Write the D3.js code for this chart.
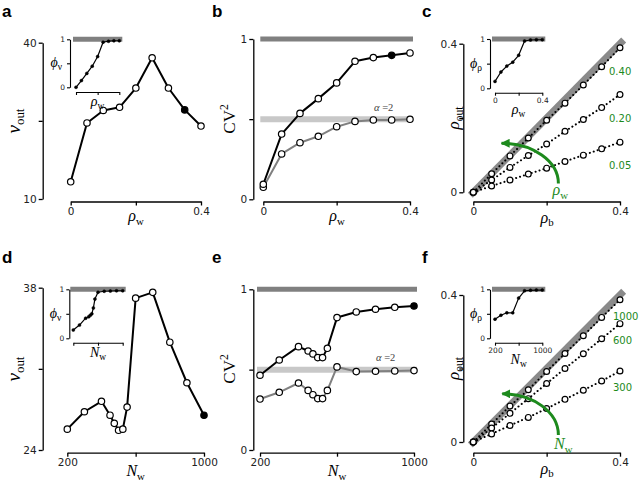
<!DOCTYPE html>
<html>
<head>
<meta charset="utf-8">
<script src="https://cdn.jsdelivr.net/npm/d3@7"></script>
<style>
  body { margin: 0; background: #fff; }
</style>
</head>
<body>
<svg id="fig" width="640" height="483"></svg>
<script>
// ---- data ----
const rhoW = [0, 0.05, 0.1, 0.15, 0.2, 0.25, 0.3, 0.35, 0.4];
const nuOutRho = [13.3, 24.6, 27.0, 27.6, 31.3, 37.1, 31.3, 27.1, 24.0];
const phiNuRho = [0, 0.14, 0.29, 0.44, 0.64, 0.94, 0.96, 0.97, 0.97];
const cv2RhoBlack = [0.094, 0.407, 0.536, 0.628, 0.726, 0.861, 0.884, 0.898, 0.913];
const cv2RhoGray = [0.075, 0.283, 0.353, 0.393, 0.453, 0.486, 0.495, 0.495, 0.499];

const rhoB = [0, 0.05, 0.1, 0.15, 0.2, 0.25, 0.3, 0.35, 0.4];
const rhoOutW40 = [0, 0.050, 0.098, 0.146, 0.194, 0.240, 0.289, 0.338, 0.389];
const rhoOutW20 = [0, 0.033, 0.067, 0.099, 0.130, 0.164, 0.196, 0.228, 0.263];
const rhoOutW05 = [0, 0.017, 0.033, 0.049, 0.065, 0.083, 0.100, 0.117, 0.135];
const rhoWLabels = ["0.40", "0.20", "0.05"];
const phiRhoRho = [0.14, 0.33, 0.45, 0.53, 0.67, 0.96, 0.98, 0.985, 0.985];

const nW = [200, 300, 400, 450, 475, 500, 525, 550, 600, 700, 800, 900, 1000];
const nuOutN = [25.8, 27.3, 28.2, 27.0, 26.3, 25.7, 25.8, 27.7, 37.1, 37.6, 33.3, 29.8, 27.0];
const phiNuN = [0.17, 0.27, 0.41, 0.44, 0.47, 0.50, 0.62, 0.80, 0.94, 0.96, 0.965, 0.97, 0.97];
const cv2NBlack = [0.465, 0.560, 0.643, 0.616, 0.598, 0.575, 0.575, 0.633, 0.824, 0.859, 0.876, 0.888, 0.896];
const cv2NGray = [0.317, 0.359, 0.417, 0.371, 0.344, 0.320, 0.320, 0.371, 0.517, 0.488, 0.490, 0.492, 0.494];

const rhoOutN1000 = [0, 0.049, 0.098, 0.142, 0.192, 0.241, 0.289, 0.339, 0.387];
const rhoOutN600 = [0, 0.038, 0.078, 0.118, 0.159, 0.200, 0.240, 0.281, 0.322];
const rhoOutN300 = [0, 0.022, 0.045, 0.067, 0.091, 0.116, 0.141, 0.166, 0.193];
const nWLabels = ["1000", "600", "300"];
const nWInset = [200, 300, 400, 500, 600, 700, 800, 900, 1000];
const phiRhoN = [0.39, 0.47, 0.52, 0.52, 0.82, 0.97, 0.98, 0.985, 0.985];

// ---- style ----
const SANS = "'Liberation Sans', 'DejaVu Sans', sans-serif";
const TICKFONT = "'DejaVu Sans', sans-serif";
const SERIF = "'Liberation Serif', 'DejaVu Serif', serif";
const GRAY = "#808080";
const LIGHT = "#c8c8c8";
const GREEN = "#1d8a1d";

const svg = d3.select("#fig");
svg.append("defs")
  .append("marker")
  .attr("id", "arrow")
  .attr("markerUnits", "userSpaceOnUse")
  .attr("viewBox", "0 0 10 10")
  .attr("refX", 9)
  .attr("refY", 5)
  .attr("markerWidth", 9)
  .attr("markerHeight", 9)
  .attr("orient", "auto")
  .append("path")
  .attr("d", "M0,0 L10,5 L0,10 z")
  .attr("fill", GREEN);

const zip = (xs, ys) => xs.map((v, i) => [v, ys[i]]);

// text with an italic/upright base and an optional sub/superscript
const mathText = (g, { x, y, base, sub, sup, size, upright, rotate, color, anchor }) => {
  const t = g.append("text")
    .attr("x", x)
    .attr("y", y)
    .attr("text-anchor", anchor || "middle")
    .attr("font-family", SERIF)
    .attr("font-size", size)
    .attr("fill", color || "#000");
  if (rotate) {
    t.attr("transform", `rotate(-90,${x},${y})`);
  }
  t.append("tspan")
    .attr("font-style", upright ? "normal" : "italic")
    .text(base);
  if (sub) {
    t.append("tspan")
      .attr("font-size", size * 0.68)
      .attr("dy", size * 0.22)
      .text(sub);
  }
  if (sup) {
    t.append("tspan")
      .attr("font-size", size * 0.68)
      .attr("dy", -size * 0.4)
      .text(sup);
  }
  return t;
};

const styleAxis = (sel, fontSize, width) => {
  sel.selectAll("path, line")
    .attr("stroke", "#000")
    .attr("stroke-width", width);
  sel.selectAll("text")
    .attr("font-family", TICKFONT)
    .attr("font-size", fontSize)
    .attr("fill", "#222");
};

const drawAxes = (g, x, y, o) => {
  const ya = g.append("g")
    .attr("transform", `translate(${o.yAxisX},0)`)
    .call(
      d3.axisLeft(y)
        .tickValues(o.yTicks)
        .tickSize(o.tick)
        .tickSizeOuter(0)
        .tickPadding(2)
        .tickFormat((d, i) => o.yTickText[i])
    );
  styleAxis(ya, o.font, o.width);
  const xa = g.append("g")
    .attr("transform", `translate(0,${o.xAxisY})`)
    .call(
      d3.axisBottom(x)
        .tickValues(o.xTicks)
        .tickSize(o.tick)
        .tickSizeOuter(0)
        .tickPadding(2)
        .tickFormat((d, i) => o.xTickText[i])
    );
  styleAxis(xa, o.font, o.width);
};

const drawSeries = (g, x, y, pts, color, filledIdx, opts = {}) => {
  const line = d3.line().x(d => x(d[0])).y(d => y(d[1]));
  g.append("path")
    .datum(pts)
    .attr("d", line)
    .attr("fill", "none")
    .attr("stroke", color)
    .attr("stroke-width", opts.width || 2)
    .attr("stroke-dasharray", opts.dash || null)
    .attr("stroke-linecap", opts.dash ? "round" : "butt")
    .attr("stroke-linejoin", "round");
  g.append("g")
    .selectAll("circle")
    .data(pts)
    .join("circle")
    .attr("cx", d => x(d[0]))
    .attr("cy", d => y(d[1]))
    .attr("r", opts.r || 3.2)
    .attr("fill", (d, i) => (opts.allFilled || i === filledIdx ? "#000" : "#fff"))
    .attr("stroke", "#000")
    .attr("stroke-width", opts.circleStroke || 1.2);
};

const hBar = (g, x, y, value, color, width) => {
  const [r0, r1] = x.range();
  g.append("line")
    .attr("x1", r0 - 3)
    .attr("x2", r1 + 3)
    .attr("y1", y(value))
    .attr("y2", y(value))
    .attr("stroke", color)
    .attr("stroke-width", width);
};

const panelLetter = (x, y, letter) => {
  svg.append("text")
    .attr("x", x)
    .attr("y", y)
    .attr("font-family", SANS)
    .attr("font-weight", "bold")
    .attr("font-size", 17)
    .text(letter);
};

const drawInset = o => {
  const g = svg.append("g");
  const x = d3.scaleLinear(o.xDomain, o.xRange);
  const y = d3.scaleLinear([0, 1], o.yRange);
  hBar(g, x, y, 1, GRAY, 5);
  drawAxes(g, x, y, {
    yAxisX: o.yAxisX,
    xAxisY: o.xAxisY,
    yTicks: [0, 0.5, 1],
    yTickText: ["0", "", "1"],
    xTicks: o.xTicks,
    xTickText: o.xTickText,
    tick: 3,
    font: 7.5,
    width: 1.1,
  });
  drawSeries(g, x, y, zip(o.xs, o.ys), "#000", -1, {
    width: 1.2,
    r: 1.5,
    allFilled: true,
    circleStroke: 0.5,
  });
  mathText(g, {
    x: o.yAxisX - 8,
    y: (o.yRange[0] + o.yRange[1]) / 2 + 4,
    base: "\u03d5",
    sub: o.ySub,
    size: 14,
    anchor: "end",
  });
  mathText(g, {
    x: (o.xRange[0] + o.xRange[1]) / 2,
    y: o.xLabelY,
    base: o.xBase,
    sub: "w",
    size: 14,
  });
};

const greenArrow = (g, x, y, o) => {
  const sx = x(o.start[0]);
  const sy = y(o.start[1]);
  const ex = x(o.end[0]);
  const ey = y(o.end[1]);
  g.append("path")
    .attr("d", `M${sx},${sy} A${sx - ex},${sy - ey} 0 0 0 ${ex},${ey}`)
    .attr("fill", "none")
    .attr("stroke", GREEN)
    .attr("stroke-width", 3)
    .attr("marker-end", "url(#arrow)");
  mathText(g, {
    x: sx + o.labelDx,
    y: sy + o.labelDy,
    base: o.base,
    sub: "w",
    size: 16,
    color: GREEN,
  });
};

// ---- panel a ----
(() => {
  const g = svg.append("g");
  const x = d3.scaleLinear([0, 0.4], [70.7, 201]);
  const y = d3.scaleLinear([10, 40], [199, 42.7]);
  drawAxes(g, x, y, {
    yAxisX: 42.7, xAxisY: 201.5,
    yTicks: [10, 25, 40], yTickText: ["10", "", "40"],
    xTicks: [0, 0.2, 0.4], xTickText: ["0", "", "0.4"],
    tick: 4, font: 10.5, width: 1.3,
  });
  drawSeries(g, x, y, zip(rhoW, nuOutRho), "#000", 7);
  mathText(g, { x: 20, y: 121, base: "\u03bd", sub: "out", size: 19, rotate: true });
  mathText(g, { x: 136, y: 221, base: "\u03c1", sub: "w", size: 16 });
  drawInset({
    xDomain: [0, 0.4], xRange: [76, 119.3], yRange: [87.3, 39.3],
    yAxisX: 70, xAxisY: 92, xTicks: [0, 0.2, 0.4], xTickText: ["", "", ""],
    xs: rhoW, ys: phiNuRho, ySub: "\u03bd", xBase: "\u03c1", xLabelY: 106,
  });
})();

// ---- panel b ----
(() => {
  const g = svg.append("g");
  const x = d3.scaleLinear([0, 0.4], [263.3, 410]);
  const y = d3.scaleLinear([0, 1], [199.3, 39]);
  hBar(g, x, y, 1, GRAY, 5);
  hBar(g, x, y, 0.5, LIGHT, 6);
  drawAxes(g, x, y, {
    yAxisX: 253.3, xAxisY: 201.5,
    yTicks: [0, 0.5, 1], yTickText: ["0", "", "1"],
    xTicks: [0, 0.2, 0.4], xTickText: ["0", "", "0.4"],
    tick: 4, font: 10.5, width: 1.3,
  });
  drawSeries(g, x, y, zip(rhoW, cv2RhoGray), GRAY, -1);
  drawSeries(g, x, y, zip(rhoW, cv2RhoBlack), "#000", 7);
  const a = g.append("text")
    .attr("x", 374).attr("y", 111)
    .attr("font-family", SERIF).attr("font-size", 10.5).attr("fill", "#444");
  a.append("tspan").attr("font-style", "italic").text("\u03b1");
  a.append("tspan").text(" =2");
  mathText(g, { x: 235, y: 119, base: "CV", sup: "2", size: 17, upright: true, rotate: true });
  mathText(g, { x: 337, y: 221, base: "\u03c1", sub: "w", size: 16 });
})();

// ---- panels c & f ----
const drawCorr = o => {
  const g = svg.append("g");
  const x = d3.scaleLinear([0, 0.4], [473.3, 620]);
  const y = d3.scaleLinear([0, 0.4], o.yRange);
  g.append("line")
    .attr("x1", x(-0.008)).attr("y1", y(-0.008))
    .attr("x2", x(0.41)).attr("y2", y(0.41))
    .attr("stroke", "#8a8a8a")
    .attr("stroke-width", 7);
  drawAxes(g, x, y, {
    yAxisX: 463.3, xAxisY: o.xAxisY,
    yTicks: [0, 0.2, 0.4], yTickText: ["0", "", "0.4"],
    xTicks: [0, 0.2, 0.4], xTickText: ["0", "", "0.4"],
    tick: 4, font: 10.5, width: 1.3,
  });
  o.series.forEach(s => {
    drawSeries(g, x, y, zip(rhoB, s), "#000", -1, {
      dash: "0.1,4", width: 2, r: 2.9,
    });
  });
  o.labels.forEach((t, i) => {
    g.append("text")
      .attr("x", x(0.4) + o.labelDx)
      .attr("y", y(o.labelY[i]) + 4)
      .attr("font-family", TICKFONT)
      .attr("font-size", 10)
      .attr("fill", GREEN)
      .text(t);
  });
  greenArrow(g, x, y, o.arrow);
  mathText(g, { x: 459, y: (o.yRange[0] + o.yRange[1]) / 2, base: "\u03c1", sub: "out", size: 17, rotate: true });
  mathText(g, { x: 547, y: o.xAxisY + 21, base: "\u03c1", sub: "b", size: 16 });
};

drawCorr({
  yRange: [192.3, 43.7], xAxisY: 201.5,
  series: [rhoOutW40, rhoOutW20, rhoOutW05],
  labels: rhoWLabels, labelY: [0.327, 0.2, 0.073], labelDx: -11,
  arrow: { start: [0.232, 0.024], end: [0.077, 0.132], base: "\u03c1", labelDx: 2, labelDy: 12 },
});
drawInset({
  xDomain: [0, 0.4], xRange: [495, 542.3], yRange: [88.3, 39],
  yAxisX: 490, xAxisY: 92.7, xTicks: [0, 0.2, 0.4], xTickText: ["0", "", "0.4"],
  xs: rhoW, ys: phiRhoRho, ySub: "\u03c1", xBase: "\u03c1", xLabelY: 114,
});

drawCorr({
  yRange: [442, 295], xAxisY: 452.7,
  series: [rhoOutN1000, rhoOutN600, rhoOutN300],
  labels: nWLabels, labelY: [0.343, 0.278, 0.15], labelDx: -7,
  arrow: { start: [0.232, 0.019], end: [0.079, 0.131], base: "N", labelDx: 5, labelDy: 14 },
});
drawInset({
  xDomain: [200, 1000], xRange: [495, 542.3], yRange: [338.3, 289.3],
  yAxisX: 490, xAxisY: 342.7, xTicks: [200, 600, 1000], xTickText: ["200", "", "1000"],
  xs: nWInset, ys: phiRhoN, ySub: "\u03c1", xBase: "N", xLabelY: 364,
});

// ---- panel d ----
(() => {
  const g = svg.append("g");
  const x = d3.scaleLinear([200, 1000], [67.3, 204]);
  const y = d3.scaleLinear([24, 38], [450, 287.7]);
  drawAxes(g, x, y, {
    yAxisX: 42.7, xAxisY: 452.7,
    yTicks: [24, 31, 38], yTickText: ["24", "", "38"],
    xTicks: [200, 600, 1000], xTickText: ["200", "", "1000"],
    tick: 4, font: 10.5, width: 1.3,
  });
  drawSeries(g, x, y, zip(nW, nuOutN), "#000", 12);
  mathText(g, { x: 20, y: 369, base: "\u03bd", sub: "out", size: 19, rotate: true });
  mathText(g, { x: 135.7, y: 476, base: "N", sub: "w", size: 16 });
  drawInset({
    xDomain: [200, 1000], xRange: [73.3, 122.7], yRange: [338.3, 289.3],
    yAxisX: 69.3, xAxisY: 342.7, xTicks: [200, 600, 1000], xTickText: ["", "", ""],
    xs: nW, ys: phiNuN, ySub: "\u03bd", xBase: "N", xLabelY: 357,
  });
})();

// ---- panel e ----
(() => {
  const g = svg.append("g");
  const x = d3.scaleLinear([200, 1000], [260, 414]);
  const y = d3.scaleLinear([0, 1], [450, 289.3]);
  hBar(g, x, y, 1, GRAY, 5);
  hBar(g, x, y, 0.5, LIGHT, 6);
  drawAxes(g, x, y, {
    yAxisX: 253.3, xAxisY: 452.7,
    yTicks: [0, 0.5, 1], yTickText: ["0", "", "1"],
    xTicks: [200, 600, 1000], xTickText: ["200", "", "1000"],
    tick: 4, font: 10.5, width: 1.3,
  });
  drawSeries(g, x, y, zip(nW, cv2NGray), GRAY, -1);
  drawSeries(g, x, y, zip(nW, cv2NBlack), "#000", 12);
  const a = g.append("text")
    .attr("x", 376).attr("y", 361)
    .attr("font-family", SERIF).attr("font-size", 10.5).attr("fill", "#444");
  a.append("tspan").attr("font-style", "italic").text("\u03b1");
  a.append("tspan").text(" =2");
  mathText(g, { x: 235, y: 369, base: "CV", sup: "2", size: 17, upright: true, rotate: true });
  mathText(g, { x: 337, y: 476, base: "N", sub: "w", size: 16 });
})();

panelLetter(2, 17, "a");
panelLetter(212, 17, "b");
panelLetter(422, 17, "c");
panelLetter(2, 263, "d");
panelLetter(212, 263, "e");
panelLetter(422, 263, "f");
</script>
</body>
</html>
